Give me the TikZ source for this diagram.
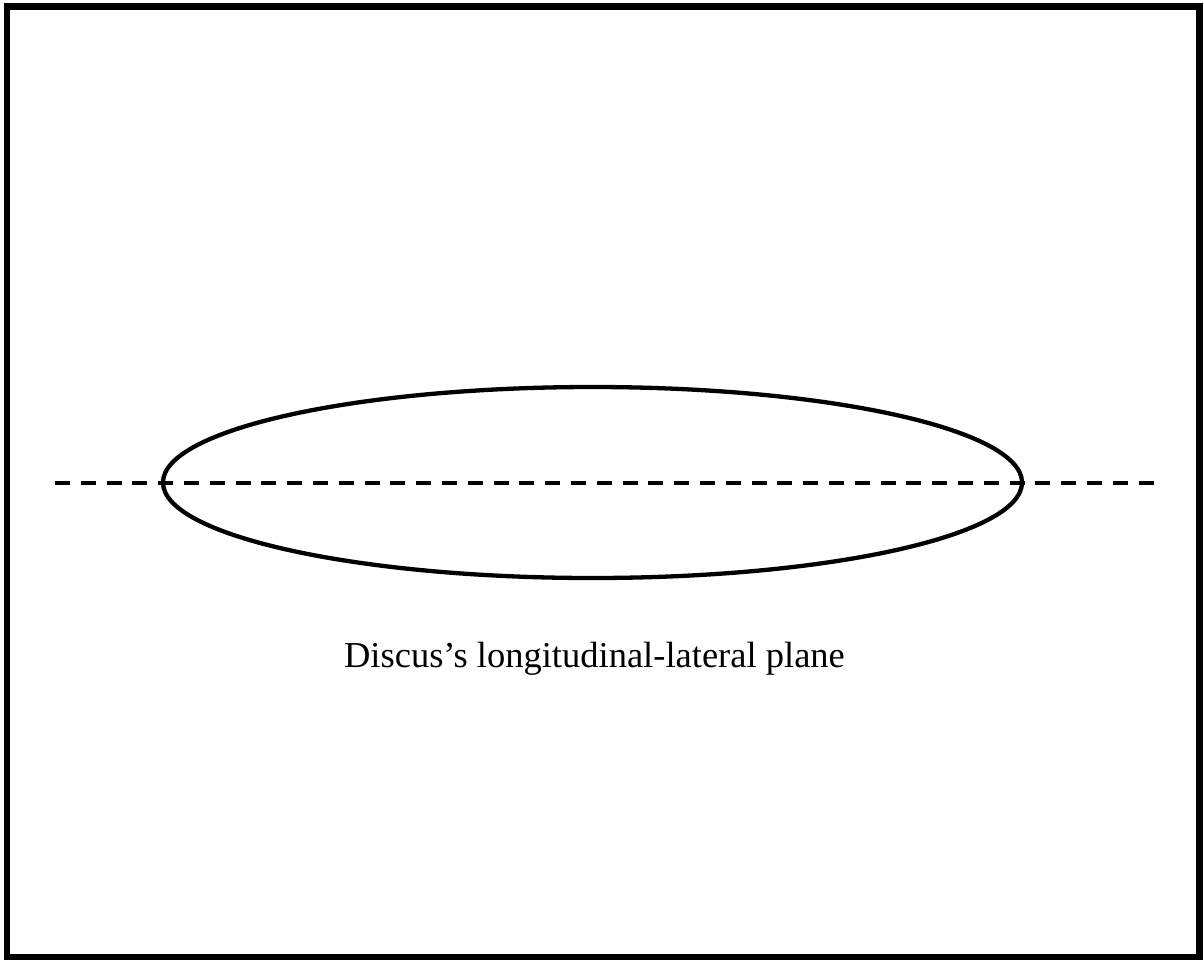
\documentclass[tikz,border=0pt]{standalone}
\usepackage{fontspec}
\setmainfont{Liberation Serif}
\usetikzlibrary{shapes.geometric}
\tikzset{
  frame/.style={draw=black, line width=6.5pt},
  discus/.style={draw=black, line width=4.3pt, ellipse, inner sep=0pt, outer sep=0pt, minimum width=859pt, minimum height=191pt},
  axisline/.style={draw=black, line width=3.4pt, dash pattern=on 15pt off 10.8pt},
  caption/.style={font=\fontsize{36.5}{42}\selectfont, inner sep=0pt, anchor=base}
}
\begin{document}
\begin{tikzpicture}[x=1pt,y=-1pt]
\useasboundingbox (0,0) rectangle (1204,962);
\draw[frame] (7,6.5) rectangle (1199.5,957);
\coordinate (L) at (55,483);
\coordinate (R) at (1153.6,483);
\node[discus] (disc) at (592.5,482.5) {};
\draw[axisline] (L) -- (R);
\node[caption] (cap) at (594.5,667) {Discus’s longitudinal-lateral plane};
\end{tikzpicture}
\end{document}
